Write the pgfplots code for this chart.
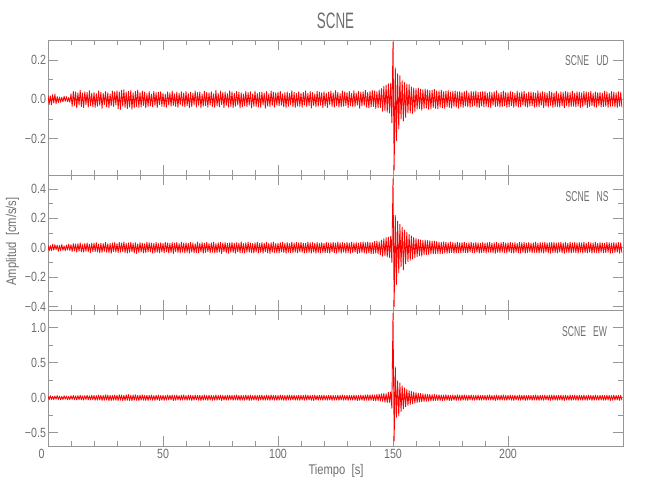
\documentclass[border=0pt]{standalone}
\usepackage{pgfplots}
\pgfplotsset{compat=1.18}
\usepackage{fontspec}
\setmainfont{Liberation Sans}[FakeStretch=0.8]
\newfontfamily\narrowfont{Liberation Sans}[FakeStretch=0.6]
\definecolor{txt}{RGB}{110,110,110}
\definecolor{ax}{RGB}{150,150,150}
\pgfplotsset{
  sp/.style={scale only axis, width=345pt, xmin=0, xmax=250, anchor=north west,
    axis line style={ax, line width=0.5pt},
    every tick/.style={ax, line width=0.5pt},
    tick align=inside, major tick length=6pt, minor tick length=3pt,
    xtick={0,50,100,150,200}, minor x tick num=4, minor y tick num=1,
    ticklabel style={font=\fontsize{8}{9}\selectfont, text=txt},
    yticklabel style={inner xsep=1pt},
    xticklabel style={inner ysep=1.5pt},
    clip=true},
  sig/.style={red, line width=0.5pt, line join=round, mark=none}
}
\begin{document}
\begin{tikzpicture}
\useasboundingbox (0,0) rectangle (390pt,300pt);
% ---------- UD ----------
\begin{axis}[sp, at={(28.8pt,276pt)}, height=81pt, ymin=-0.385, ymax=0.302,
  ytick={-0.2,0,0.2}, yticklabels={−0.2,0.0,0.2}, xticklabels={}]
\addplot[sig] table[header=false, row sep=\\, x expr=\coordindex*0.5, y index=0] {
0.021\\ -0.026\\ 0.018\\ -0.028\\ 0.024\\ -0.019\\ 0.027\\ -0.023\\ 0.014\\ -0.016\\ 0.012\\ -0.015\\ 0.011\\ -0.013\\ 0.016\\ -0.010\\ 0.014\\ -0.012\\ 0.009\\ -0.015\\
0.028\\ -0.036\\ 0.041\\ -0.031\\ 0.038\\ -0.044\\ 0.033\\ -0.029\\ 0.046\\ -0.037\\ 0.032\\ -0.042\\ 0.039\\ -0.027\\ 0.035\\ -0.040\\ 0.044\\ -0.033\\ 0.030\\ -0.038\\
0.036\\ -0.041\\ 0.029\\ -0.035\\ 0.043\\ -0.030\\ 0.037\\ -0.046\\ 0.031\\ -0.026\\ 0.040\\ -0.038\\ 0.034\\ -0.043\\ 0.028\\ -0.032\\ 0.042\\ -0.036\\ 0.039\\ -0.029\\
0.044\\ -0.048\\ 0.038\\ -0.051\\ 0.046\\ -0.035\\ 0.049\\ -0.042\\ 0.037\\ -0.047\\ 0.041\\ -0.039\\ 0.045\\ -0.050\\ 0.033\\ -0.043\\ 0.040\\ -0.036\\ 0.047\\ -0.041\\
0.035\\ -0.039\\ 0.042\\ -0.031\\ 0.037\\ -0.044\\ 0.029\\ -0.036\\ 0.040\\ -0.033\\ 0.027\\ -0.038\\ 0.041\\ -0.030\\ 0.034\\ -0.042\\ 0.036\\ -0.028\\ 0.039\\ -0.035\\
0.031\\ -0.037\\ 0.026\\ -0.040\\ 0.038\\ -0.029\\ 0.033\\ -0.035\\ 0.042\\ -0.031\\ 0.028\\ -0.036\\ 0.037\\ -0.041\\ 0.030\\ -0.027\\ 0.039\\ -0.034\\ 0.032\\ -0.038\\
0.040\\ -0.033\\ 0.029\\ -0.042\\ 0.036\\ -0.037\\ 0.031\\ -0.028\\ 0.043\\ -0.039\\ 0.034\\ -0.030\\ 0.038\\ -0.044\\ 0.027\\ -0.035\\ 0.041\\ -0.032\\ 0.036\\ -0.040\\
0.033\\ -0.029\\ 0.039\\ -0.036\\ 0.028\\ -0.041\\ 0.045\\ -0.034\\ 0.030\\ -0.038\\ 0.042\\ -0.027\\ 0.035\\ -0.043\\ 0.037\\ -0.031\\ 0.029\\ -0.040\\ 0.044\\ -0.036\\
0.038\\ -0.042\\ 0.031\\ -0.035\\ 0.040\\ -0.029\\ 0.036\\ -0.044\\ 0.033\\ -0.038\\ 0.027\\ -0.032\\ 0.041\\ -0.037\\ 0.034\\ -0.030\\ 0.039\\ -0.043\\ 0.028\\ -0.035\\
0.042\\ -0.036\\ 0.030\\ -0.039\\ 0.035\\ -0.041\\ 0.037\\ -0.028\\ 0.032\\ -0.045\\ 0.040\\ -0.034\\ 0.029\\ -0.037\\ 0.043\\ -0.031\\ 0.036\\ -0.040\\ 0.033\\ -0.029\\
0.037\\ -0.033\\ 0.041\\ -0.030\\ 0.028\\ -0.039\\ 0.034\\ -0.042\\ 0.038\\ -0.035\\ 0.031\\ -0.027\\ 0.044\\ -0.038\\ 0.036\\ -0.041\\ 0.030\\ -0.034\\ 0.039\\ -0.036\\
0.032\\ -0.040\\ 0.036\\ -0.029\\ 0.043\\ -0.037\\ 0.030\\ -0.033\\ 0.040\\ -0.044\\ 0.035\\ -0.031\\ 0.028\\ -0.038\\ 0.041\\ -0.035\\ 0.037\\ -0.030\\ 0.034\\ -0.042\\
0.039\\ -0.034\\ 0.031\\ -0.041\\ 0.037\\ -0.028\\ 0.042\\ -0.036\\ 0.033\\ -0.039\\ 0.045\\ -0.032\\ 0.036\\ -0.040\\ 0.029\\ -0.037\\ 0.043\\ -0.035\\ 0.038\\ -0.031\\
0.035\\ -0.042\\ 0.040\\ -0.033\\ 0.030\\ -0.038\\ 0.044\\ -0.036\\ 0.032\\ -0.029\\ 0.041\\ -0.045\\ 0.037\\ -0.034\\ 0.039\\ -0.031\\ 0.046\\ -0.040\\ 0.035\\ -0.043\\
0.041\\ -0.038\\ 0.045\\ -0.036\\ 0.043\\ -0.047\\ 0.039\\ -0.044\\ 0.048\\ -0.042\\ 0.055\\ -0.061\\ 0.066\\ -0.058\\ 0.072\\ -0.065\\ 0.079\\ -0.070\\ 0.083\\ -0.12\\
0.29\\ -0.36\\ 0.16\\ -0.21\\ 0.13\\ -0.15\\ 0.12\\ -0.10\\ 0.095\\ -0.11\\ 0.085\\ -0.092\\ 0.078\\ -0.07\\ 0.075\\ -0.068\\ 0.063\\ -0.072\\ 0.058\\ -0.061\\
0.055\\ -0.05\\ 0.058\\ -0.047\\ 0.052\\ -0.055\\ 0.049\\ -0.046\\ 0.053\\ -0.044\\ 0.048\\ -0.051\\ 0.045\\ -0.049\\ 0.047\\ -0.042\\ 0.050\\ -0.046\\ 0.043\\ -0.048\\
0.044\\ -0.040\\ 0.047\\ -0.043\\ 0.039\\ -0.046\\ 0.042\\ -0.038\\ 0.045\\ -0.041\\ 0.037\\ -0.044\\ 0.041\\ -0.036\\ 0.043\\ -0.040\\ 0.038\\ -0.045\\ 0.040\\ -0.037\\
0.036\\ -0.041\\ 0.039\\ -0.034\\ 0.043\\ -0.038\\ 0.033\\ -0.040\\ 0.041\\ -0.036\\ 0.038\\ -0.031\\ 0.042\\ -0.039\\ 0.035\\ -0.043\\ 0.037\\ -0.033\\ 0.040\\ -0.038\\
0.041\\ -0.035\\ 0.032\\ -0.039\\ 0.037\\ -0.042\\ 0.034\\ -0.030\\ 0.039\\ -0.037\\ 0.043\\ -0.034\\ 0.031\\ -0.040\\ 0.036\\ -0.038\\ 0.042\\ -0.033\\ 0.035\\ -0.041\\
0.034\\ -0.038\\ 0.040\\ -0.032\\ 0.036\\ -0.041\\ 0.030\\ -0.035\\ 0.042\\ -0.039\\ 0.033\\ -0.037\\ 0.038\\ -0.030\\ 0.041\\ -0.036\\ 0.029\\ -0.040\\ 0.037\\ -0.034\\
0.038\\ -0.033\\ 0.035\\ -0.040\\ 0.031\\ -0.036\\ 0.043\\ -0.038\\ 0.034\\ -0.029\\ 0.039\\ -0.042\\ 0.036\\ -0.035\\ 0.032\\ -0.039\\ 0.040\\ -0.031\\ 0.037\\ -0.041\\
0.033\\ -0.037\\ 0.041\\ -0.036\\ 0.029\\ -0.040\\ 0.038\\ -0.034\\ 0.035\\ -0.043\\ 0.040\\ -0.032\\ 0.037\\ -0.039\\ 0.034\\ -0.036\\ 0.042\\ -0.035\\ 0.031\\ -0.038\\
0.039\\ -0.034\\ 0.036\\ -0.041\\ 0.033\\ -0.037\\ 0.040\\ -0.030\\ 0.038\\ -0.042\\ 0.035\\ -0.036\\ 0.041\\ -0.033\\ 0.030\\ -0.039\\ 0.037\\ -0.040\\ 0.034\\ -0.031\\
0.036\\ -0.039\\ 0.032\\ -0.037\\ 0.042\\ -0.035\\ 0.038\\ -0.041\\ 0.031\\ -0.036\\ 0.040\\ -0.034\\ 0.037\\ -0.038\\ 0.033\\ -0.042\\ 0.039\\ -0.035\\ 0.036\\ -0.040\\
};
\end{axis}
% ---------- NS ----------
\begin{axis}[sp, at={(28.8pt,195pt)}, height=81pt, ymin=-0.424, ymax=0.495,
  ytick={-0.4,-0.2,0,0.2,0.4}, yticklabels={−0.4,−0.2,0.0,0.2,0.4}, xticklabels={}]
\addplot[sig] table[header=false, row sep=\\, x expr=\coordindex*0.5, y index=0] {
0.018\\ -0.022\\ 0.015\\ -0.020\\ 0.023\\ -0.017\\ 0.021\\ -0.014\\ 0.019\\ -0.024\\ 0.016\\ -0.020\\ 0.022\\ -0.018\\ 0.013\\ -0.021\\ 0.019\\ -0.016\\ 0.024\\ -0.019\\
0.021\\ -0.026\\ 0.028\\ -0.022\\ 0.025\\ -0.031\\ 0.027\\ -0.024\\ 0.033\\ -0.028\\ 0.022\\ -0.030\\ 0.029\\ -0.025\\ 0.032\\ -0.027\\ 0.024\\ -0.033\\ 0.030\\ -0.026\\
0.031\\ -0.027\\ 0.034\\ -0.029\\ 0.025\\ -0.035\\ 0.030\\ -0.032\\ 0.028\\ -0.024\\ 0.036\\ -0.031\\ 0.027\\ -0.033\\ 0.029\\ -0.038\\ 0.032\\ -0.026\\ 0.035\\ -0.030\\
0.028\\ -0.033\\ 0.036\\ -0.030\\ 0.032\\ -0.027\\ 0.039\\ -0.034\\ 0.029\\ -0.036\\ 0.033\\ -0.031\\ 0.037\\ -0.028\\ 0.030\\ -0.035\\ 0.034\\ -0.039\\ 0.027\\ -0.032\\
0.035\\ -0.029\\ 0.031\\ -0.036\\ 0.027\\ -0.033\\ 0.038\\ -0.030\\ 0.034\\ -0.028\\ 0.032\\ -0.037\\ 0.029\\ -0.034\\ 0.036\\ -0.031\\ 0.028\\ -0.035\\ 0.033\\ -0.030\\
0.030\\ -0.034\\ 0.037\\ -0.028\\ 0.033\\ -0.036\\ 0.029\\ -0.032\\ 0.035\\ -0.039\\ 0.031\\ -0.027\\ 0.036\\ -0.033\\ 0.028\\ -0.035\\ 0.038\\ -0.030\\ 0.032\\ -0.036\\
0.034\\ -0.031\\ 0.029\\ -0.037\\ 0.036\\ -0.030\\ 0.032\\ -0.035\\ 0.027\\ -0.033\\ 0.039\\ -0.034\\ 0.030\\ -0.029\\ 0.035\\ -0.038\\ 0.031\\ -0.032\\ 0.037\\ -0.028\\
0.029\\ -0.035\\ 0.033\\ -0.031\\ 0.038\\ -0.036\\ 0.028\\ -0.033\\ 0.034\\ -0.030\\ 0.036\\ -0.040\\ 0.032\\ -0.028\\ 0.035\\ -0.034\\ 0.030\\ -0.037\\ 0.033\\ -0.031\\
0.036\\ -0.032\\ 0.030\\ -0.038\\ 0.034\\ -0.029\\ 0.031\\ -0.035\\ 0.040\\ -0.033\\ 0.028\\ -0.036\\ 0.033\\ -0.031\\ 0.037\\ -0.030\\ 0.032\\ -0.034\\ 0.029\\ -0.037\\
0.033\\ -0.030\\ 0.038\\ -0.035\\ 0.029\\ -0.032\\ 0.035\\ -0.037\\ 0.031\\ -0.028\\ 0.036\\ -0.034\\ 0.030\\ -0.039\\ 0.034\\ -0.031\\ 0.038\\ -0.033\\ 0.028\\ -0.035\\
0.031\\ -0.036\\ 0.034\\ -0.029\\ 0.037\\ -0.033\\ 0.030\\ -0.038\\ 0.035\\ -0.031\\ 0.029\\ -0.034\\ 0.039\\ -0.036\\ 0.032\\ -0.030\\ 0.036\\ -0.035\\ 0.033\\ -0.029\\
0.037\\ -0.031\\ 0.032\\ -0.036\\ 0.030\\ -0.034\\ 0.038\\ -0.032\\ 0.033\\ -0.037\\ 0.035\\ -0.030\\ 0.031\\ -0.038\\ 0.036\\ -0.033\\ 0.029\\ -0.035\\ 0.034\\ -0.032\\
0.030\\ -0.035\\ 0.036\\ -0.033\\ 0.032\\ -0.038\\ 0.034\\ -0.029\\ 0.037\\ -0.034\\ 0.031\\ -0.036\\ 0.039\\ -0.031\\ 0.033\\ -0.037\\ 0.035\\ -0.030\\ 0.032\\ -0.036\\
0.036\\ -0.032\\ 0.031\\ -0.037\\ 0.038\\ -0.034\\ 0.033\\ -0.030\\ 0.035\\ -0.039\\ 0.032\\ -0.035\\ 0.037\\ -0.033\\ 0.040\\ -0.036\\ 0.034\\ -0.038\\ 0.039\\ -0.035\\
0.037\\ -0.041\\ 0.035\\ -0.039\\ 0.043\\ -0.038\\ 0.046\\ -0.042\\ 0.040\\ -0.048\\ 0.052\\ -0.058\\ 0.061\\ -0.055\\ 0.068\\ -0.063\\ 0.072\\ -0.066\\ 0.078\\ -0.10\\
0.47\\ -0.40\\ 0.22\\ -0.25\\ 0.18\\ -0.17\\ 0.16\\ -0.13\\ 0.14\\ -0.15\\ 0.12\\ -0.11\\ 0.105\\ -0.095\\ 0.09\\ -0.085\\ 0.08\\ -0.076\\ 0.07\\ -0.068\\
0.064\\ -0.06\\ 0.058\\ -0.055\\ 0.053\\ -0.057\\ 0.050\\ -0.048\\ 0.052\\ -0.046\\ 0.049\\ -0.045\\ 0.047\\ -0.043\\ 0.045\\ -0.042\\ 0.044\\ -0.040\\ 0.042\\ -0.039\\
0.038\\ -0.041\\ 0.036\\ -0.039\\ 0.040\\ -0.035\\ 0.037\\ -0.038\\ 0.034\\ -0.036\\ 0.039\\ -0.033\\ 0.035\\ -0.037\\ 0.032\\ -0.036\\ 0.038\\ -0.034\\ 0.033\\ -0.035\\
0.035\\ -0.032\\ 0.037\\ -0.034\\ 0.031\\ -0.036\\ 0.034\\ -0.030\\ 0.038\\ -0.033\\ 0.032\\ -0.035\\ 0.036\\ -0.031\\ 0.033\\ -0.037\\ 0.030\\ -0.034\\ 0.035\\ -0.032\\
0.032\\ -0.036\\ 0.034\\ -0.031\\ 0.037\\ -0.033\\ 0.030\\ -0.035\\ 0.033\\ -0.038\\ 0.036\\ -0.032\\ 0.031\\ -0.034\\ 0.035\\ -0.030\\ 0.038\\ -0.033\\ 0.032\\ -0.036\\
0.034\\ -0.030\\ 0.036\\ -0.035\\ 0.032\\ -0.037\\ 0.035\\ -0.031\\ 0.030\\ -0.034\\ 0.037\\ -0.036\\ 0.033\\ -0.032\\ 0.036\\ -0.038\\ 0.031\\ -0.033\\ 0.035\\ -0.030\\
0.031\\ -0.035\\ 0.033\\ -0.032\\ 0.038\\ -0.034\\ 0.030\\ -0.037\\ 0.035\\ -0.031\\ 0.033\\ -0.036\\ 0.037\\ -0.030\\ 0.032\\ -0.035\\ 0.034\\ -0.038\\ 0.036\\ -0.033\\
0.036\\ -0.033\\ 0.031\\ -0.036\\ 0.034\\ -0.030\\ 0.037\\ -0.035\\ 0.032\\ -0.038\\ 0.035\\ -0.031\\ 0.030\\ -0.034\\ 0.038\\ -0.036\\ 0.033\\ -0.031\\ 0.036\\ -0.034\\
0.033\\ -0.037\\ 0.035\\ -0.031\\ 0.032\\ -0.036\\ 0.038\\ -0.033\\ 0.031\\ -0.035\\ 0.036\\ -0.030\\ 0.034\\ -0.037\\ 0.032\\ -0.034\\ 0.037\\ -0.032\\ 0.030\\ -0.036\\
0.035\\ -0.031\\ 0.033\\ -0.036\\ 0.030\\ -0.034\\ 0.037\\ -0.032\\ 0.034\\ -0.038\\ 0.031\\ -0.035\\ 0.036\\ -0.033\\ 0.032\\ -0.030\\ 0.035\\ -0.037\\ 0.033\\ -0.034\\
};
\end{axis}
% ---------- EW ----------
\begin{axis}[sp, at={(28.8pt,114pt)}, height=81.6pt, ymin=-0.69, ymax=1.253,
  ytick={-0.5,0,0.5,1.0}, yticklabels={−0.5,0.0,0.5,1.0},
  xticklabels={\makebox[0pt]{\hspace*{-7.8pt}0},50,100,150,200}]
\addplot[sig] table[header=false, row sep=\\, x expr=\coordindex*0.5, y index=0] {
0.022\\ -0.027\\ 0.030\\ -0.024\\ 0.019\\ -0.028\\ 0.026\\ -0.021\\ 0.031\\ -0.025\\ 0.023\\ -0.029\\ 0.020\\ -0.026\\ 0.028\\ -0.022\\ 0.025\\ -0.030\\ 0.021\\ -0.027\\
0.029\\ -0.024\\ 0.032\\ -0.028\\ 0.026\\ -0.033\\ 0.030\\ -0.027\\ 0.035\\ -0.031\\ 0.028\\ -0.034\\ 0.031\\ -0.026\\ 0.036\\ -0.030\\ 0.027\\ -0.032\\ 0.034\\ -0.029\\
0.033\\ -0.037\\ 0.030\\ -0.034\\ 0.038\\ -0.031\\ 0.035\\ -0.039\\ 0.032\\ -0.036\\ 0.040\\ -0.033\\ 0.037\\ -0.041\\ 0.034\\ -0.038\\ 0.031\\ -0.035\\ 0.039\\ -0.036\\
0.036\\ -0.040\\ 0.042\\ -0.035\\ 0.038\\ -0.043\\ 0.034\\ -0.039\\ 0.041\\ -0.037\\ 0.044\\ -0.040\\ 0.036\\ -0.042\\ 0.039\\ -0.034\\ 0.043\\ -0.038\\ 0.035\\ -0.041\\
0.038\\ -0.034\\ 0.040\\ -0.037\\ 0.033\\ -0.039\\ 0.036\\ -0.041\\ 0.034\\ -0.032\\ 0.039\\ -0.036\\ 0.031\\ -0.038\\ 0.035\\ -0.033\\ 0.037\\ -0.040\\ 0.032\\ -0.035\\
0.034\\ -0.038\\ 0.031\\ -0.035\\ 0.039\\ -0.033\\ 0.036\\ -0.030\\ 0.037\\ -0.040\\ 0.033\\ -0.036\\ 0.038\\ -0.031\\ 0.030\\ -0.037\\ 0.035\\ -0.034\\ 0.040\\ -0.032\\
0.031\\ -0.036\\ 0.037\\ -0.033\\ 0.035\\ -0.039\\ 0.032\\ -0.034\\ 0.038\\ -0.030\\ 0.034\\ -0.037\\ 0.036\\ -0.041\\ 0.033\\ -0.035\\ 0.039\\ -0.031\\ 0.032\\ -0.038\\
0.037\\ -0.032\\ 0.034\\ -0.038\\ 0.030\\ -0.035\\ 0.040\\ -0.036\\ 0.033\\ -0.031\\ 0.038\\ -0.039\\ 0.035\\ -0.033\\ 0.031\\ -0.036\\ 0.037\\ -0.034\\ 0.036\\ -0.030\\
0.033\\ -0.037\\ 0.036\\ -0.031\\ 0.039\\ -0.035\\ 0.032\\ -0.038\\ 0.035\\ -0.034\\ 0.030\\ -0.036\\ 0.037\\ -0.032\\ 0.034\\ -0.039\\ 0.038\\ -0.035\\ 0.031\\ -0.033\\
0.036\\ -0.034\\ 0.032\\ -0.039\\ 0.035\\ -0.031\\ 0.038\\ -0.036\\ 0.030\\ -0.035\\ 0.037\\ -0.033\\ 0.034\\ -0.038\\ 0.039\\ -0.030\\ 0.033\\ -0.036\\ 0.035\\ -0.037\\
0.032\\ -0.035\\ 0.038\\ -0.033\\ 0.034\\ -0.037\\ 0.031\\ -0.039\\ 0.036\\ -0.032\\ 0.039\\ -0.035\\ 0.033\\ -0.031\\ 0.037\\ -0.036\\ 0.030\\ -0.034\\ 0.036\\ -0.038\\
0.035\\ -0.031\\ 0.033\\ -0.037\\ 0.039\\ -0.034\\ 0.036\\ -0.030\\ 0.032\\ -0.036\\ 0.034\\ -0.039\\ 0.038\\ -0.033\\ 0.031\\ -0.035\\ 0.036\\ -0.032\\ 0.033\\ -0.037\\
0.038\\ -0.034\\ 0.031\\ -0.036\\ 0.035\\ -0.032\\ 0.037\\ -0.038\\ 0.033\\ -0.035\\ 0.030\\ -0.033\\ 0.036\\ -0.037\\ 0.034\\ -0.031\\ 0.039\\ -0.036\\ 0.032\\ -0.034\\
0.034\\ -0.038\\ 0.036\\ -0.033\\ 0.031\\ -0.035\\ 0.038\\ -0.036\\ 0.035\\ -0.040\\ 0.033\\ -0.037\\ 0.039\\ -0.034\\ 0.036\\ -0.041\\ 0.038\\ -0.035\\ 0.042\\ -0.039\\
0.040\\ -0.037\\ 0.043\\ -0.041\\ 0.038\\ -0.045\\ 0.047\\ -0.042\\ 0.050\\ -0.046\\ 0.055\\ -0.052\\ 0.060\\ -0.065\\ 0.058\\ -0.070\\ 0.075\\ -0.068\\ 0.085\\ -0.15\\
1.21\\ -0.62\\ 0.44\\ -0.28\\ 0.24\\ -0.26\\ 0.21\\ -0.20\\ 0.17\\ -0.16\\ 0.14\\ -0.13\\ 0.12\\ -0.11\\ 0.10\\ -0.095\\ 0.09\\ -0.085\\ 0.08\\ -0.075\\
0.072\\ -0.068\\ 0.065\\ -0.062\\ 0.060\\ -0.058\\ 0.056\\ -0.054\\ 0.052\\ -0.050\\ 0.049\\ -0.047\\ 0.046\\ -0.045\\ 0.044\\ -0.043\\ 0.045\\ -0.041\\ 0.042\\ -0.040\\
0.041\\ -0.038\\ 0.039\\ -0.042\\ 0.037\\ -0.040\\ 0.043\\ -0.036\\ 0.038\\ -0.041\\ 0.035\\ -0.039\\ 0.040\\ -0.034\\ 0.037\\ -0.038\\ 0.041\\ -0.035\\ 0.036\\ -0.039\\
0.037\\ -0.034\\ 0.040\\ -0.036\\ 0.033\\ -0.038\\ 0.036\\ -0.031\\ 0.039\\ -0.035\\ 0.032\\ -0.037\\ 0.035\\ -0.033\\ 0.038\\ -0.036\\ 0.031\\ -0.034\\ 0.036\\ -0.032\\
0.033\\ -0.037\\ 0.035\\ -0.032\\ 0.038\\ -0.034\\ 0.031\\ -0.036\\ 0.034\\ -0.039\\ 0.037\\ -0.033\\ 0.032\\ -0.035\\ 0.036\\ -0.031\\ 0.039\\ -0.034\\ 0.033\\ -0.037\\
0.035\\ -0.031\\ 0.037\\ -0.036\\ 0.033\\ -0.038\\ 0.036\\ -0.032\\ 0.031\\ -0.035\\ 0.038\\ -0.037\\ 0.034\\ -0.033\\ 0.037\\ -0.039\\ 0.032\\ -0.034\\ 0.036\\ -0.031\\
0.032\\ -0.036\\ 0.034\\ -0.033\\ 0.039\\ -0.035\\ 0.031\\ -0.038\\ 0.036\\ -0.032\\ 0.034\\ -0.037\\ 0.038\\ -0.031\\ 0.033\\ -0.036\\ 0.035\\ -0.039\\ 0.037\\ -0.034\\
0.037\\ -0.034\\ 0.032\\ -0.037\\ 0.035\\ -0.031\\ 0.038\\ -0.036\\ 0.033\\ -0.039\\ 0.036\\ -0.032\\ 0.031\\ -0.035\\ 0.039\\ -0.037\\ 0.034\\ -0.032\\ 0.037\\ -0.035\\
0.034\\ -0.038\\ 0.036\\ -0.032\\ 0.033\\ -0.037\\ 0.039\\ -0.034\\ 0.032\\ -0.036\\ 0.037\\ -0.031\\ 0.035\\ -0.038\\ 0.033\\ -0.035\\ 0.038\\ -0.033\\ 0.031\\ -0.037\\
0.036\\ -0.032\\ 0.034\\ -0.037\\ 0.031\\ -0.035\\ 0.038\\ -0.033\\ 0.035\\ -0.039\\ 0.032\\ -0.036\\ 0.037\\ -0.034\\ 0.033\\ -0.031\\ 0.036\\ -0.038\\ 0.034\\ -0.035\\
};
\end{axis}
% ---------- texts ----------
\node[text=txt, font=\narrowfont\fontsize{13.4}{14}\selectfont] at (201.3pt,287.4pt) {SCNE};
\node[text=txt, font=\narrowfont\fontsize{8.6}{9}\selectfont, anchor=east, inner sep=0pt] at (365.4pt,263.6pt) {SCNE\ \ \ UD};
\node[text=txt, font=\narrowfont\fontsize{8.6}{9}\selectfont, anchor=east, inner sep=0pt] at (365.4pt,182.3pt) {SCNE\ \ \ NS};
\node[text=txt, font=\narrowfont\fontsize{8.6}{9}\selectfont, anchor=east, inner sep=0pt] at (364.4pt,101pt) {SCNE\ \ \ EW};
\node[text=txt, font=\fontsize{8.4}{9}\selectfont, rotate=90] at (7.5pt,155.1pt) {Amplitud\ \ [cm/s/s]};
\node[text=txt, font=\fontsize{8.4}{9}\selectfont] at (201.6pt,17.4pt) {Tiempo\ \ [s]};
\end{tikzpicture}
\end{document}
